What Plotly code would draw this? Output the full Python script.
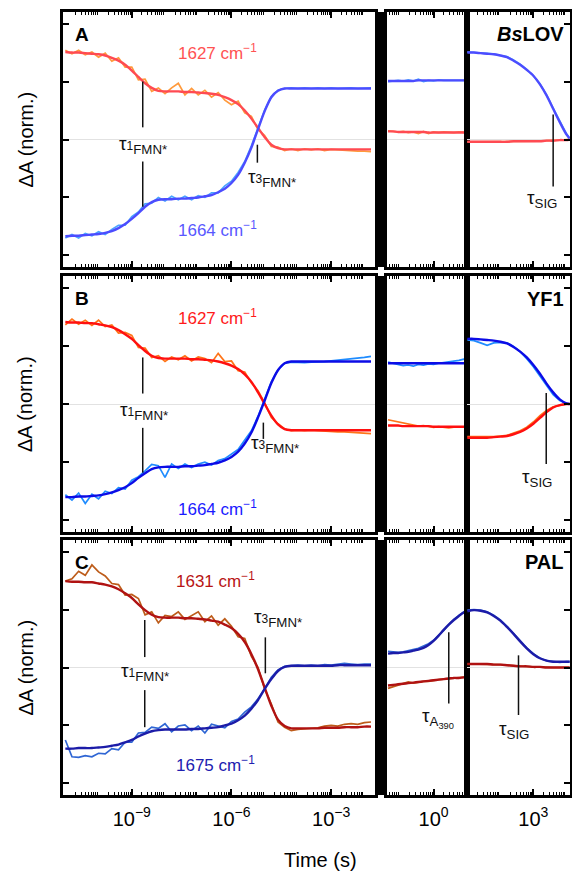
import plotly.graph_objects as go

W, H = 572, 874

# ---------------- time grids (log10 of time in s) ----------------
LOGT_FAST = [-11.0, -10.8, -10.6, -10.4, -10.2, -10.0, -9.8, -9.6, -9.4, -9.2,
             -9.0, -8.8, -8.6, -8.4, -8.2, -8.0, -7.8, -7.6, -7.4, -7.2,
             -7.0, -6.8, -6.6, -6.4, -6.2, -6.0, -5.8, -5.6, -5.4, -5.2,
             -5.0, -4.8, -4.6, -4.4, -4.2, -4.0, -3.8, -3.6, -3.4, -3.2,
             -3.0, -2.8, -2.6, -2.4, -2.2, -2.0, -1.8]
LOGT_MID = [-1.35, -1.2, -1.05, -0.9, -0.75, -0.6, -0.45, -0.3, -0.15, 0.0,
            0.15, 0.3, 0.45, 0.6, 0.75, 0.9, 1.0]
LOGT_SLOW = [1.0, 1.2, 1.4, 1.6, 1.8, 2.0, 2.2, 2.4, 2.6, 2.8, 3.0, 3.2, 3.4,
             3.6, 3.8, 4.0, 4.1]

# ---------------- A : BsLOV ----------------
A_RED_FIT_F = [1.51, 1.50, 1.50, 1.49, 1.48, 1.47, 1.45, 1.41, 1.36, 1.29,
               1.19, 1.08, 0.97, 0.89, 0.84, 0.83, 0.83, 0.83, 0.82, 0.82,
               0.81, 0.80, 0.79, 0.77, 0.73, 0.68, 0.61, 0.50, 0.36, 0.20,
               0.04, -0.09, -0.15, -0.17, -0.17, -0.17, -0.17, -0.17, -0.17, -0.17,
               -0.17, -0.17, -0.17, -0.17, -0.17, -0.17, -0.17]
A_RED_DAT_F = [1.54, 1.48, 1.54, 1.46, 1.51, 1.42, 1.49, 1.35, 1.41, 1.25,
               1.25, 1.03, 1.04, 0.83, 0.89, 0.79, 0.89, 0.97, 0.77, 0.88,
               0.77, 0.85, 0.73, 0.81, 0.68, 0.60, 0.66, 0.46, 0.40, 0.17,
               0.07, -0.12, -0.13, -0.19, -0.16, -0.19, -0.16, -0.18, -0.16, -0.19,
               -0.17, -0.18, -0.19, -0.19, -0.20, -0.20, -0.21]
A_BLUE_FIT_F = [-1.67, -1.66, -1.66, -1.65, -1.64, -1.63, -1.61, -1.58, -1.53, -1.46,
                -1.37, -1.27, -1.16, -1.08, -1.04, -1.03, -1.03, -1.02, -1.02, -1.01,
                -1.00, -0.98, -0.96, -0.91, -0.85, -0.75, -0.61, -0.40, -0.14, 0.18,
                0.49, 0.73, 0.84, 0.88, 0.88, 0.88, 0.88, 0.88, 0.88, 0.88,
                0.88, 0.88, 0.88, 0.88, 0.88, 0.88, 0.88]
A_BLUE_DAT_F = [-1.70, -1.64, -1.70, -1.62, -1.66, -1.59, -1.64, -1.55, -1.48, -1.48,
                -1.33, -1.25, -1.11, -1.10, -1.00, -1.06, -0.98, -1.04, -0.98, -1.04,
                -0.97, -1.00, -0.92, -0.92, -0.80, -0.72, -0.57, -0.38, -0.11, 0.19,
                0.51, 0.74, 0.85, 0.88, 0.89, 0.88, 0.89, 0.88, 0.89, 0.88,
                0.89, 0.88, 0.89, 0.89, 0.88, 0.89, 0.89]
A_RED_FIT_M = [0.14, 0.14, 0.13, 0.13, 0.13, 0.13, 0.13, 0.13, 0.12, 0.12, 0.12, 0.12, 0.12, 0.12, 0.12, 0.12, 0.12]
A_RED_DAT_M = [0.15, 0.14, 0.13, 0.14, 0.12, 0.13, 0.10, 0.14, 0.10, 0.13, 0.12, 0.13, 0.12, 0.12, 0.13, 0.12, 0.12]
A_BLUE_FIT_M = [1.01, 1.01, 1.01, 1.01, 1.01, 1.01, 1.02, 1.02, 1.02, 1.02, 1.02, 1.02, 1.02, 1.02, 1.02, 1.02, 1.02]
A_BLUE_DAT_M = [1.00, 1.01, 1.02, 1.01, 1.03, 1.01, 1.04, 1.00, 1.02, 1.01, 1.03, 1.02, 1.02, 1.03, 1.02, 1.02, 1.02]
A_RED_FIT_S = [-0.04, -0.04, -0.04, -0.04, -0.04, -0.04, -0.04, -0.03, -0.03, -0.03, -0.03, -0.03, -0.02, -0.02, -0.01, -0.01, 0.00]
A_RED_DAT_S = [-0.04, -0.04, -0.04, -0.04, -0.04, -0.04, -0.03, -0.03, -0.03, -0.03, -0.03, -0.03, -0.02, -0.02, -0.01, 0.00, 0.00]
A_BLUE_FIT_S = [1.50, 1.50, 1.49, 1.48, 1.47, 1.45, 1.42, 1.36, 1.29, 1.20, 1.10, 0.95, 0.76, 0.53, 0.30, 0.09, 0.02]
A_BLUE_DAT_S = [1.51, 1.50, 1.50, 1.48, 1.48, 1.45, 1.43, 1.37, 1.30, 1.21, 1.10, 0.96, 0.77, 0.54, 0.31, 0.10, 0.02]

# ---------------- B : YF1 ----------------
B_RED_FIT_F = [1.41, 1.40, 1.40, 1.39, 1.39, 1.37, 1.35, 1.32, 1.27, 1.20,
               1.12, 1.01, 0.91, 0.83, 0.79, 0.78, 0.78, 0.78, 0.78, 0.77,
               0.77, 0.76, 0.75, 0.73, 0.70, 0.66, 0.60, 0.51, 0.38, 0.20,
               0.00, -0.20, -0.35, -0.43, -0.45, -0.45, -0.45, -0.45, -0.45, -0.45,
               -0.45, -0.45, -0.45, -0.45, -0.45, -0.45, -0.45]
B_RED_DAT_F = [1.36, 1.46, 1.37, 1.44, 1.35, 1.44, 1.33, 1.36, 1.22, 1.23,
               1.18, 0.97, 0.96, 0.80, 0.83, 0.73, 0.81, 0.76, 0.83, 0.74,
               0.81, 0.78, 0.71, 0.87, 0.73, 0.74, 0.57, 0.55, 0.36, 0.23,
               0.02, -0.23, -0.34, -0.43, -0.46, -0.45, -0.46, -0.45, -0.46, -0.47,
               -0.47, -0.48, -0.48, -0.49, -0.49, -0.50, -0.51]
B_BLUE_FIT_F = [-1.60, -1.60, -1.59, -1.59, -1.58, -1.57, -1.55, -1.52, -1.48, -1.43,
                -1.36, -1.27, -1.19, -1.12, -1.09, -1.08, -1.08, -1.08, -1.07, -1.07,
                -1.06, -1.05, -1.03, -1.01, -0.97, -0.91, -0.82, -0.68, -0.49, -0.23,
                0.06, 0.36, 0.58, 0.70, 0.73, 0.73, 0.73, 0.73, 0.73, 0.73,
                0.73, 0.73, 0.73, 0.73, 0.73, 0.73, 0.73]
B_BLUE_DAT_F = [-1.56, -1.65, -1.53, -1.71, -1.55, -1.63, -1.50, -1.54, -1.44, -1.46,
                -1.31, -1.25, -1.15, -1.04, -1.06, -1.26, -1.03, -1.11, -1.03, -1.09,
                -1.03, -1.00, -1.05, -0.97, -0.94, -0.86, -0.78, -0.62, -0.46, -0.21,
                0.09, 0.38, 0.59, 0.70, 0.72, 0.71, 0.71, 0.72, 0.72, 0.73,
                0.74, 0.75, 0.76, 0.77, 0.78, 0.80, 0.82]
B_RED_FIT_M = [-0.37, -0.37, -0.37, -0.38, -0.38, -0.38, -0.38, -0.38, -0.38, -0.39, -0.39, -0.39, -0.39, -0.39, -0.39, -0.39, -0.39]
B_RED_DAT_M = [-0.27, -0.29, -0.31, -0.33, -0.35, -0.36, -0.38, -0.37, -0.39, -0.40, -0.39, -0.40, -0.41, -0.40, -0.40, -0.40, -0.40]
B_BLUE_FIT_M = [0.70, 0.70, 0.70, 0.70, 0.70, 0.70, 0.70, 0.70, 0.70, 0.70, 0.70, 0.70, 0.70, 0.70, 0.70, 0.70, 0.70]
B_BLUE_DAT_M = [0.72, 0.70, 0.68, 0.66, 0.67, 0.65, 0.68, 0.67, 0.69, 0.68, 0.70, 0.71, 0.72, 0.73, 0.75, 0.77, 0.80]
B_RED_FIT_S = [-0.58, -0.58, -0.58, -0.58, -0.57, -0.56, -0.55, -0.52, -0.48, -0.42, -0.34, -0.24, -0.14, -0.06, -0.02, 0.00, 0.00]
B_RED_DAT_S = [-0.56, -0.56, -0.57, -0.56, -0.56, -0.55, -0.54, -0.50, -0.46, -0.40, -0.31, -0.20, -0.11, -0.05, -0.02, 0.00, 0.00]
B_BLUE_FIT_S = [1.12, 1.12, 1.11, 1.10, 1.09, 1.07, 1.04, 0.98, 0.90, 0.80, 0.67, 0.52, 0.35, 0.20, 0.08, 0.01, 0.00]
B_BLUE_DAT_S = [1.10, 1.09, 1.05, 1.01, 1.05, 1.06, 1.05, 0.99, 0.90, 0.78, 0.64, 0.48, 0.30, 0.16, 0.06, 0.01, 0.00]

# ---------------- C : PAL ----------------
C_RED_FIT_F = [1.49, 1.48, 1.48, 1.47, 1.47, 1.45, 1.43, 1.40, 1.35, 1.28,
               1.20, 1.09, 0.99, 0.91, 0.87, 0.86, 0.86, 0.86, 0.85, 0.85,
               0.84, 0.83, 0.81, 0.79, 0.74, 0.68, 0.58, 0.44, 0.23, -0.03,
               -0.35, -0.66, -0.90, -1.01, -1.05, -1.05, -1.05, -1.05, -1.05, -1.04,
               -1.04, -1.04, -1.03, -1.03, -1.03, -1.02, -1.02]
C_RED_DAT_F = [1.49, 1.53, 1.66, 1.59, 1.77, 1.65, 1.58, 1.45, 1.43, 1.25,
               1.26, 1.19, 0.91, 0.96, 0.77, 0.90, 0.88, 0.96, 0.83, 0.90,
               0.96, 0.79, 0.89, 0.73, 0.84, 0.71, 0.53, 0.50, 0.19, 0.00,
               -0.37, -0.63, -0.94, -1.03, -1.09, -1.07, -1.06, -1.05, -1.04, -1.01,
               -1.00, -1.01, -0.98, -0.97, -0.98, -0.95, -0.94]
C_BLUE_FIT_F = [-1.40, -1.40, -1.39, -1.39, -1.39, -1.38, -1.37, -1.35, -1.33, -1.29,
                -1.25, -1.19, -1.14, -1.10, -1.08, -1.07, -1.07, -1.07, -1.07, -1.06,
                -1.06, -1.05, -1.04, -1.03, -1.00, -0.97, -0.91, -0.83, -0.71, -0.56,
                -0.37, -0.20, -0.06, 0.01, 0.03, 0.03, 0.03, 0.03, 0.03, 0.03,
                0.03, 0.04, 0.04, 0.04, 0.04, 0.04, 0.04]
C_BLUE_DAT_F = [-1.25, -1.54, -1.55, -1.52, -1.54, -1.48, -1.49, -1.40, -1.42, -1.29,
                -1.29, -1.13, -1.12, -1.03, -1.05, -0.97, -1.11, -1.01, -0.99, -1.09,
                -1.01, -1.13, -0.98, -1.01, -1.04, -0.93, -0.89, -0.77, -0.68, -0.54,
                -0.37, -0.17, -0.04, 0.02, 0.03, 0.04, 0.03, 0.04, 0.03, 0.05,
                0.04, 0.06, 0.07, 0.06, 0.05, 0.06, 0.06]
C_RED_FIT_M = [-0.31, -0.30, -0.29, -0.28, -0.27, -0.26, -0.25, -0.24, -0.23, -0.22, -0.21, -0.20, -0.19, -0.18, -0.18, -0.17, -0.17]
C_RED_DAT_M = [-0.36, -0.33, -0.31, -0.28, -0.25, -0.27, -0.25, -0.24, -0.24, -0.22, -0.21, -0.20, -0.19, -0.18, -0.18, -0.17, -0.16]
C_BLUE_FIT_M = [0.24, 0.25, 0.25, 0.26, 0.27, 0.29, 0.31, 0.34, 0.39, 0.46, 0.55, 0.65, 0.74, 0.82, 0.89, 0.95, 0.97]
C_BLUE_DAT_M = [0.28, 0.27, 0.26, 0.27, 0.29, 0.30, 0.33, 0.37, 0.41, 0.47, 0.55, 0.64, 0.74, 0.83, 0.90, 0.96, 0.98]
C_RED_FIT_S = [0.06, 0.06, 0.06, 0.06, 0.05, 0.05, 0.04, 0.03, 0.02, 0.02, 0.01, 0.01, 0.00, 0.00, 0.00, 0.00, 0.00]
C_RED_DAT_S = [0.06, 0.06, 0.06, 0.06, 0.05, 0.05, 0.04, 0.03, 0.02, 0.02, 0.01, 0.01, 0.00, 0.00, 0.00, 0.00, 0.00]
C_BLUE_FIT_S = [0.97, 0.99, 0.98, 0.95, 0.89, 0.81, 0.70, 0.58, 0.45, 0.33, 0.23, 0.16, 0.12, 0.10, 0.10, 0.10, 0.10]
C_BLUE_DAT_S = [0.99, 1.00, 0.99, 0.96, 0.90, 0.82, 0.71, 0.59, 0.46, 0.34, 0.24, 0.16, 0.12, 0.10, 0.09, 0.10, 0.10]

# ---------------- labels ----------------
PANEL_LETTERS = ["A", "B", "C"]
PROTEINS = ["<b><i>Bs</i>LOV</b>", "<b>YF1</b>", "<b>PAL</b>"]
RED_LABELS = ["1627 cm<sup>−1</sup>", "1627 cm<sup>−1</sup>", "1631 cm<sup>−1</sup>"]
BLUE_LABELS = ["1664 cm<sup>−1</sup>", "1664 cm<sup>−1</sup>", "1675 cm<sup>−1</sup>"]
RED_LABEL_Y = [1.51, 1.49, 1.51]
BLUE_LABEL_Y = [-1.55, -1.79, -1.66]
WAVE_LABEL_LOGT = [-6.42, -6.42, -6.48]
LABELED_DECADES = [-9, -6, -3, 0, 3]

# time-constant markers: (row, panel column, log10 t, y start, y end)
TAU_ROW = [0, 0, 0, 0, 1, 1, 1, 1, 2, 2, 2, 2, 2]
TAU_COL = [0, 0, 0, 2, 0, 0, 0, 2, 0, 0, 0, 1, 2]
TAU_LOGT = [-8.67, -8.67, -5.22, 3.60, -8.67, -8.67, -5.04, 3.39, -8.61, -8.61, -4.98, 0.45, 2.55]
TAU_Y0 = [1.00, -0.38, -0.09, 0.43, 0.80, -0.41, -0.32, 0.19, 0.82, -0.39, 0.52, 0.61, 0.21]
TAU_Y1 = [0.21, -1.16, -0.40, -0.81, 0.18, -1.18, -0.60, -1.03, 0.18, -1.03, -0.10, -0.62, -0.82]

TAU1 = 'τ<span style="font-size:12px">1</span><sub>FMN*</sub>'
TAU3 = 'τ<span style="font-size:12px">3</span><sub>FMN*</sub>'
TSIG = "τ<sub>SIG</sub>"
TA390 = "τ<sub>A<sub>390</sub></sub>"
TAU_TXT = [TAU1, TAU3, TSIG, TAU1, TAU3, TSIG, TAU1, TAU3, TA390, TSIG]
TAU_TXT_ROW = [0, 0, 0, 1, 1, 1, 2, 2, 2, 2]
TAU_TXT_COL = [0, 0, 2, 0, 0, 2, 0, 0, 1, 2]
TAU_TXT_LOGT = [-8.66, -4.77, 3.27, -8.64, -4.68, 3.12, -8.60, -4.59, 0.12, 2.40]
TAU_TXT_Y = [-0.09, -0.66, -1.03, -0.12, -0.68, -1.27, -0.08, 0.85, -0.87, -1.08]

# colours: red fit, red data, blue fit, blue data
RED_FIT_C = ["#ff4a52", "#ff1010", "#b01212"]
RED_DAT_C = ["#ff9a3c", "#ff7418", "#bd5c1a"]
BLUE_FIT_C = ["#4c4cff", "#0c0ce6", "#1c1ca8"]
BLUE_DAT_C = ["#4aa4ff", "#1f8cff", "#2f66d4"]
RED_TXT_C = ["#ff5252", "#ff1a1a", "#b81414"]
BLUE_TXT_C = ["#5858ff", "#1a1aff", "#2020b0"]

# ---------------- geometry ----------------
X_DOM = [(63 / W, 375 / W), (387 / W, 467 / W), (467 / W, 570 / W)]
ROW_PX = [(12, 267), (276, 532), (540, 795)]
Y_DOM = [(1 - b / H, 1 - t / H) for t, b in ROW_PX]
X_RANGE = [(-11.07, -1.68), (-1.38, 0.99), (0.99, 4.11)]
DECADES = [list(range(-11, -1)), [-1, 0], [1, 2, 3, 4]]

FONT = "Liberation Sans, Arial, Helvetica, sans-serif"

ROWS = [
    ([A_RED_DAT_F, A_RED_DAT_M, A_RED_DAT_S], [A_RED_FIT_F, A_RED_FIT_M, A_RED_FIT_S],
     [A_BLUE_DAT_F, A_BLUE_DAT_M, A_BLUE_DAT_S], [A_BLUE_FIT_F, A_BLUE_FIT_M, A_BLUE_FIT_S]),
    ([B_RED_DAT_F, B_RED_DAT_M, B_RED_DAT_S], [B_RED_FIT_F, B_RED_FIT_M, B_RED_FIT_S],
     [B_BLUE_DAT_F, B_BLUE_DAT_M, B_BLUE_DAT_S], [B_BLUE_FIT_F, B_BLUE_FIT_M, B_BLUE_FIT_S]),
    ([C_RED_DAT_F, C_RED_DAT_M, C_RED_DAT_S], [C_RED_FIT_F, C_RED_FIT_M, C_RED_FIT_S],
     [C_BLUE_DAT_F, C_BLUE_DAT_M, C_BLUE_DAT_S], [C_BLUE_FIT_F, C_BLUE_FIT_M, C_BLUE_FIT_S]),
]
GRIDS = [LOGT_FAST, LOGT_MID, LOGT_SLOW]


def names(r, c):
    k = r * 3 + c + 1
    return ("x" if k == 1 else f"x{k}", "y" if k == 1 else f"y{k}")


def sec(logs):
    return [10 ** v for v in logs]


fig = go.Figure()

for r, (rdat, rfit, bdat, bfit) in enumerate(ROWS):
    for c in range(3):
        xn, yn = names(r, c)
        t = sec(GRIDS[c])
        assert len(rdat[c]) == len(t) == len(rfit[c]) == len(bdat[c]) == len(bfit[c])
        fig.add_trace(go.Scatter(x=t, y=rdat[c], mode="lines", xaxis=xn, yaxis=yn,
                                 line=dict(color=RED_DAT_C[r], width=1.7)))
        fig.add_trace(go.Scatter(x=t, y=bdat[c], mode="lines", xaxis=xn, yaxis=yn,
                                 line=dict(color=BLUE_DAT_C[r], width=1.7)))
        fig.add_trace(go.Scatter(x=t, y=rfit[c], mode="lines", xaxis=xn, yaxis=yn,
                                 line=dict(color=RED_FIT_C[r], width=2.4, shape="spline", smoothing=0.8)))
        fig.add_trace(go.Scatter(x=t, y=bfit[c], mode="lines", xaxis=xn, yaxis=yn,
                                 line=dict(color=BLUE_FIT_C[r], width=2.4, shape="spline", smoothing=0.8)))

# tau marker lines
for r, c, lt, y0, y1 in zip(TAU_ROW, TAU_COL, TAU_LOGT, TAU_Y0, TAU_Y1):
    xn, yn = names(r, c)
    fig.add_trace(go.Scatter(x=[10 ** lt, 10 ** lt], y=[y0, y1], mode="lines", xaxis=xn, yaxis=yn,
                             line=dict(color="#111111", width=1.5)))

annotations = []
for r, c, lt, y, txt in zip(TAU_TXT_ROW, TAU_TXT_COL, TAU_TXT_LOGT, TAU_TXT_Y, TAU_TXT):
    xn, yn = names(r, c)
    annotations.append(dict(x=lt, y=y, xref=xn, yref=yn, text=txt, showarrow=False,
                            font=dict(size=19, color="#111111", family=FONT),
                            xanchor="center", yanchor="middle"))

layout = dict(width=W, height=H, margin=dict(l=0, r=0, t=0, b=0),
              paper_bgcolor="white", plot_bgcolor="white", showlegend=False,
              font=dict(family=FONT, color="black"))

for r in range(3):
    xn0, yn0 = names(r, 0)
    annotations.append(dict(x=WAVE_LABEL_LOGT[r], y=RED_LABEL_Y[r], xref=xn0, yref=yn0,
                            text=RED_LABELS[r], showarrow=False,
                            font=dict(size=17, color=RED_TXT_C[r], family=FONT)))
    annotations.append(dict(x=WAVE_LABEL_LOGT[r], y=BLUE_LABEL_Y[r], xref=xn0, yref=yn0,
                            text=BLUE_LABELS[r], showarrow=False,
                            font=dict(size=17, color=BLUE_TXT_C[r], family=FONT)))
    annotations.append(dict(x=0.061, y=0.912, xref=xn0 + " domain", yref=yn0 + " domain",
                            text="<b>" + PANEL_LETTERS[r] + "</b>", showarrow=False,
                            xanchor="center", yanchor="middle",
                            font=dict(size=19, color="black", family=FONT)))
    xn2, yn2 = names(r, 2)
    annotations.append(dict(x=0.965, y=0.912, xref=xn2 + " domain", yref=yn2 + " domain",
                            text=PROTEINS[r], showarrow=False, xanchor="right", yanchor="middle",
                            font=dict(size=20, color="black", family=FONT)))
    annotations.append(dict(x=25 / W, y=(Y_DOM[r][0] + Y_DOM[r][1]) / 2, xref="paper", yref="paper",
                            text="ΔA (norm.)", textangle=-90, showarrow=False,
                            xanchor="center", yanchor="middle",
                            font=dict(size=20, color="black", family=FONT)))

    for c in range(3):
        xn, yn = names(r, c)
        k = r * 3 + c + 1
        decs = DECADES[c]
        lab = [d for d in decs if d in LABELED_DECADES]
        unlab = [d for d in decs if d not in LABELED_DECADES]
        tickvals = [10.0 ** d for d in lab]
        ticktext = ["10<sup>" + str(d).replace("-", "−") + "</sup>" for d in lab]
        minor_vals = [m * 10.0 ** d for d in range(decs[0] - 1, decs[-1] + 1) for m in range(2, 10)]
        xa = dict(type="log", domain=list(X_DOM[c]), range=list(X_RANGE[c]), anchor=yn,
                  showline=True, linewidth=2.5, linecolor="black", mirror="allticks",
                  ticks="inside", ticklen=6, tickwidth=1.5, tickcolor="black",
                  tickmode="array", tickvals=tickvals, ticktext=ticktext,
                  showticklabels=(r == 2), tickfont=dict(size=20, family=FONT, color="black"),
                  ticklabelstandoff=4,
                  showgrid=False, zeroline=False,
                  minor=dict(tickmode="array", tickvals=minor_vals, ticks="inside",
                             ticklen=3, tickwidth=1, tickcolor="black", showgrid=False))
        ya = dict(domain=list(Y_DOM[r]), range=[-2.2, 2.2], anchor=xn,
                  showline=True, linewidth=2.5, linecolor="black", mirror=True,
                  showgrid=False, zeroline=True, zerolinecolor="#e2e2e2", zerolinewidth=1,
                  showticklabels=False, tickmode="array", tickvals=[-2, -1, 0, 1, 2],
                  ticks=("" if c == 1 else "inside"), ticklen=6, tickwidth=1.5, tickcolor="black",
                  side=("right" if c == 2 else "left"))
        layout["xaxis" if k == 1 else f"xaxis{k}"] = xa
        layout["yaxis" if k == 1 else f"yaxis{k}"] = ya
        # overlay axis carrying the unlabeled decade ticks
        ko = 9 + k
        layout[f"xaxis{ko}"] = dict(type="log", domain=list(X_DOM[c]), range=list(X_RANGE[c]),
                                    anchor=yn, overlaying=xn, side="bottom",
                                    showline=True, linewidth=2.5, linecolor="black", mirror="allticks",
                                    ticks="inside", ticklen=6, tickwidth=1.5, tickcolor="black",
                                    tickmode="array", tickvals=[10.0 ** d for d in unlab],
                                    showticklabels=False, showgrid=False, zeroline=False)

annotations.append(dict(x=320 / W, y=1 - 860 / H, xref="paper", yref="paper", text="Time (s)",
                        showarrow=False, xanchor="center", yanchor="middle",
                        font=dict(size=20, color="black", family=FONT)))

shapes = []
for r in range(3):
    shapes.append(dict(type="rect", xref="paper", yref="paper", x0=375 / W, x1=387 / W,
                       y0=Y_DOM[r][0], y1=Y_DOM[r][1], fillcolor="black", line=dict(width=0),
                       layer="above"))

layout["annotations"] = annotations
layout["shapes"] = shapes
fig.update_layout(**layout)
fig.write_html("out.html")
